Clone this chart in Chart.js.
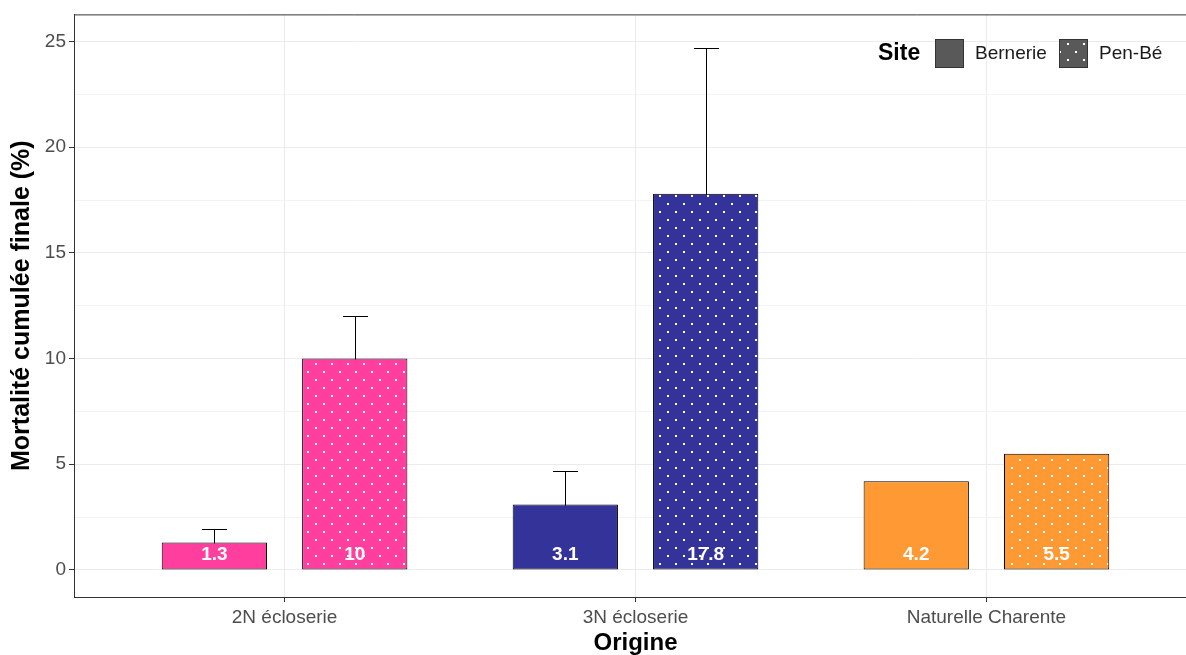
<!DOCTYPE html>
<html>
<head>
<meta charset="utf-8">
<script src="https://cdn.jsdelivr.net/npm/chart.js@4/dist/chart.umd.min.js"></script>
<style>
  html, body { margin: 0; padding: 0; background: #fff; overflow: hidden; }
  #wrap { width: 1200px; height: 655px; }
</style>
</head>
<body>
<div id="wrap"><canvas id="chart" width="1200" height="655"></canvas></div>
<script>
// data
let categories = ['2N écloserie', '3N écloserie', 'Naturelle Charente'];
let bernerie = [1.3, 3.1, 4.2];
let penbe = [10, 17.8, 5.5];
let bernerieErr = [0.64, 1.58, null];
let penbeErr = [2.0, 6.87, null];
let colors = ['#FF3E9E', '#333399', '#FF9933'];
let yTicks = [0, 2.5, 5, 7.5, 10, 12.5, 15, 17.5, 20, 22.5, 25];

Chart.defaults.font.family = '"Liberation Sans", Arial, sans-serif';

// dotted fill like ggpattern circles
let makeDots = function (bg) {
  let c = document.createElement('canvas');
  c.width = 16; c.height = 16;
  let g = c.getContext('2d');
  g.fillStyle = bg;
  g.fillRect(0, 0, 16, 16);
  g.fillStyle = '#fff';
  g.fillRect(3, 3, 2, 2);
  g.fillRect(11, 11, 2, 2);
  return g.createPattern(c, 'repeat');
};

let ctx = document.getElementById('chart').getContext('2d');

let errorBars = {
  id: 'errorBars',
  beforeDatasetsDraw(chart) {
    let g = chart.ctx;
    let y = chart.scales.y;
    let errs = [bernerieErr, penbeErr];
    g.save();
    g.strokeStyle = '#000';
    g.lineWidth = 1;
    chart.data.datasets.forEach((ds, i) => {
      let meta = chart.getDatasetMeta(i);
      meta.data.forEach((bar, j) => {
        let e = errs[i][j];
        if (e == null) return;
        let v = ds.data[j].y;
        let top = Math.round(y.getPixelForValue(v + e)) + 0.5;
        let bot = Math.round(y.getPixelForValue(v - e)) + 0.5;
        let x = Math.round(bar.x) + 0.5;
        g.beginPath();
        g.moveTo(x, bot); g.lineTo(x, top);
        g.moveTo(x - 12.5, top); g.lineTo(x + 12.5, top);
        g.moveTo(x - 12.5, bot); g.lineTo(x + 12.5, bot);
        g.stroke();
      });
    });
    g.restore();
  }
};

let extras = {
  id: 'extras',
  afterDraw(chart) {
    let g = chart.ctx;
    let a = chart.chartArea;
    let y = chart.scales.y;
    g.save();
    // top border of the panel
    g.strokeStyle = '#333';
    g.lineWidth = 1;
    g.beginPath();
    g.moveTo(a.left, a.top + 0.5);
    g.lineTo(a.right, a.top + 0.5);
    g.stroke();

    // value labels
    g.fillStyle = '#fff';
    g.font = 'bold 19px "Liberation Sans", Arial, sans-serif';
    g.textAlign = 'center';
    g.textBaseline = 'middle';
    chart.data.datasets.forEach((ds, i) => {
      chart.getDatasetMeta(i).data.forEach((bar, j) => {
        g.fillText(String(ds.data[j].y), bar.x, y.getPixelForValue(0.72));
      });
    });

    // legend
    let cy = 53;
    g.textAlign = 'left';
    g.fillStyle = '#000';
    g.font = 'bold 23px "Liberation Sans", Arial, sans-serif';
    g.fillText('Site', 878, cy + 1);
    let x = 935;
    g.font = '19px "Liberation Sans", Arial, sans-serif';
    chart.data.datasets.forEach((ds, i) => {
      g.fillStyle = i == 0 ? '#595959' : makeDots('#595959');
      g.fillRect(x, cy - 14, 28, 28);
      g.strokeStyle = '#333';
      g.strokeRect(x + 0.5, cy - 14 + 0.5, 28, 28);
      g.fillStyle = '#1a1a1a';
      g.fillText(ds.label, x + 40, cy + 1);
      x = 1059;
    });
    g.restore();
  }
};

let chart = new Chart(ctx, {
  type: 'bar',
  data: {
    datasets: [{
      label: 'Bernerie',
      data: categories.map((c, i) => ({ x: i, y: bernerie[i] })),
      backgroundColor: colors,
      borderColor: '#000',
      borderWidth: 1,
      borderSkipped: false
    }, {
      label: 'Pen-Bé',
      data: categories.map((c, i) => ({ x: i, y: penbe[i] })),
      backgroundColor: colors.map(c => makeDots(c)),
      borderColor: '#000',
      borderWidth: 1,
      borderSkipped: false
    }]
  },
  options: {
    responsive: false,
    animation: false,
    devicePixelRatio: 1,
    layout: { padding: { top: 14, right: 3, left: 0, bottom: 0 } },
    categoryPercentage: 0.8,
    barPercentage: 0.75,
    plugins: { legend: { display: false }, tooltip: { enabled: false } },
    scales: {
      x: {
        type: 'linear',
        min: -0.6,
        max: 2.6,
        offset: false,
        afterBuildTicks: s => { s.ticks = categories.map((c, i) => ({ value: i })); },
        afterFit: s => { s.height = 58; },
        grid: { offset: false, color: '#EBEBEB', tickColor: '#333', tickLength: 5 },
        border: { color: '#333', width: 1 },
        ticks: {
          color: '#4D4D4D',
          padding: 4,
          maxRotation: 0,
          autoSkip: false,
          font: { size: 19 },
          callback: v => categories[v]
        },
        title: {
          display: true,
          text: 'Origine',
          color: '#000',
          font: { size: 24, weight: 'bold', lineHeight: 1 },
          padding: { top: 0, bottom: 0 }
        }
      },
      y: {
        min: -1.28,
        max: 26.28,
        afterBuildTicks: s => { s.ticks = yTicks.map(v => ({ value: v })); },
        afterFit: s => { s.width = 74; },
        grid: {
          color: c => c.tick && c.tick.value % 5 == 0 ? '#EBEBEB' : '#F3F3F3',
          tickColor: c => c.tick && c.tick.value % 5 == 0 ? '#333' : 'rgba(0,0,0,0)',
          tickLength: 5
        },
        border: { color: '#333', width: 1 },
        ticks: {
          color: '#4D4D4D',
          padding: 3,
          autoSkip: false,
          font: { size: 19 },
          callback: v => v % 5 == 0 ? String(v) : ''
        },
        title: {
          display: true,
          text: 'Mortalité cumulée finale (%)',
          color: '#000',
          font: { size: 25, weight: 'bold', lineHeight: 1 },
          padding: { top: 10, bottom: 0 }
        }
      }
    }
  },
  plugins: [errorBars, extras]
});
</script>
</body>
</html>
